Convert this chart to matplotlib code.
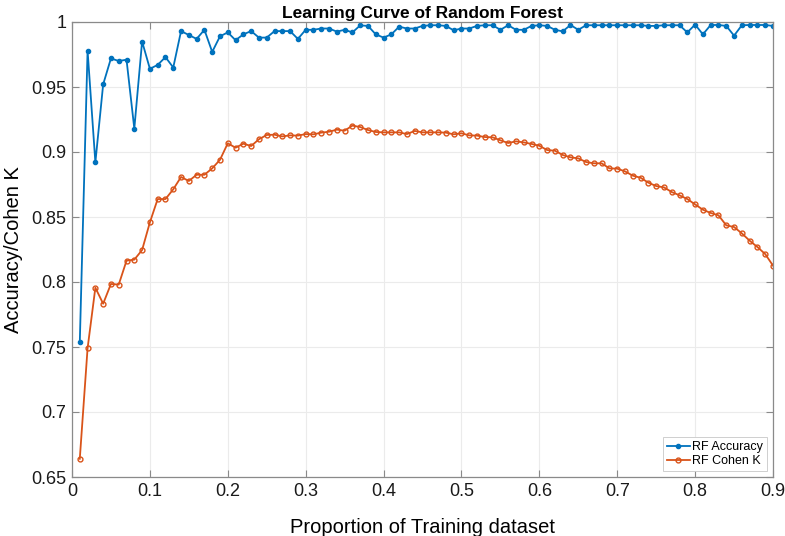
import numpy as np
import matplotlib
matplotlib.use('Agg')
import matplotlib.pyplot as plt

plt.rcParams['font.family'] = ['Liberation Sans', 'DejaVu Sans']

# proportion of training data 0.01 .. 0.90
prop = np.round(np.arange(1, 91) * 0.01, 2)

rf_acc = [0.7536, 0.978, 0.892, 0.952, 0.972, 0.970, 0.971, 0.918, 0.985, 0.964,
          0.967, 0.973, 0.965, 0.993, 0.990, 0.987, 0.994, 0.977, 0.989, 0.992,
          0.986, 0.9905, 0.993, 0.988, 0.988, 0.993, 0.993, 0.993, 0.987, 0.994,
          0.994, 0.995, 0.995, 0.9926, 0.994, 0.992, 0.9974, 0.997, 0.9905, 0.988,
          0.9905, 0.9964, 0.995, 0.995, 0.997, 0.9975, 0.9975, 0.997, 0.9936, 0.995,
          0.995, 0.997, 0.9975, 0.9975, 0.994, 0.9975, 0.994, 0.994, 0.997, 0.9975,
          0.997, 0.994, 0.9928, 0.9977, 0.994, 0.9975, 0.9975, 0.9975, 0.9975, 0.9975,
          0.9975, 0.9975, 0.9975, 0.997, 0.997, 0.9975, 0.9975, 0.9975, 0.992, 0.998,
          0.9905, 0.9977, 0.9977, 0.997, 0.9895, 0.9975, 0.9977, 0.9977, 0.9977, 0.997]

rf_kappa = [0.664, 0.749, 0.7956, 0.7833, 0.7985, 0.798, 0.8164, 0.8172, 0.8246, 0.8459,
            0.8638, 0.8638, 0.8713, 0.8808, 0.8777, 0.8825, 0.8825, 0.8874, 0.894, 0.9067,
            0.9033, 0.9064, 0.9046, 0.9098, 0.9131, 0.9133, 0.912, 0.9128, 0.9126, 0.9138,
            0.9136, 0.9149, 0.9156, 0.9172, 0.9164, 0.9203, 0.9192, 0.9169, 0.9154, 0.9151,
            0.9151, 0.9151, 0.9138, 0.9162, 0.9151, 0.9151, 0.9151, 0.9149, 0.9136, 0.9144,
            0.9128, 0.9126, 0.9115, 0.9113, 0.909, 0.9069, 0.9082, 0.9074, 0.9062, 0.9048,
            0.9015, 0.901, 0.8977, 0.8959, 0.8951, 0.8923, 0.8913, 0.8913, 0.8874, 0.8872,
            0.8851, 0.8818, 0.8802, 0.8764, 0.8738, 0.8728, 0.8692, 0.8667, 0.8638, 0.8597,
            0.8556, 0.8531, 0.8513, 0.8436, 0.8423, 0.8374, 0.8318, 0.8269, 0.8215, 0.8126]

xtick_labels = ['0', '0.1', '0.2', '0.3', '0.4', '0.5', '0.6', '0.7', '0.8', '0.9']
ytick_labels = ['0.65', '0.7', '0.75', '0.8', '0.85', '0.9', '0.95', '1']

fig = plt.figure(figsize=(7.85, 5.36), dpi=100)
ax = fig.add_axes([72/785, 1 - 477/536, (773-72)/785, (477-22)/536])

ax.plot(prop, rf_acc, '.-', color='#0072BD', lw=1.3, ms=6, label='RF Accuracy')
ax.plot(prop, rf_kappa, 'o-', color='#D95319', lw=1.3, ms=3.5, mfc='none', mew=1.0,
        label='RF Cohen K')

ax.set_xlim(0, 0.9)
ax.set_ylim(0.65, 1)
ax.set_xticks(np.linspace(0, 0.9, 10))
ax.set_xticklabels(xtick_labels)
ax.set_yticks(np.linspace(0.65, 1, 8))
ax.set_yticklabels(ytick_labels)
ax.grid(True, color='#ebebeb', lw=0.8)
ax.set_axisbelow(True)
ax.tick_params(direction='in', top=True, right=True, length=5, labelsize=13,
               color='#8a8a8a', labelcolor='#1a1a1a', width=0.8, pad=4)
for s in ax.spines.values():
    s.set_color('#8a8a8a')
    s.set_linewidth(0.9)

ax.set_title('Learning Curve of Random Forest', fontsize=12.5, fontweight='bold', pad=3)
ax.set_xlabel('Proportion of Training dataset', fontsize=14.5, labelpad=13)
ax.set_ylabel('Accuracy/Cohen K', fontsize=14.5, labelpad=6)

leg = ax.legend(loc='lower right', fontsize=9, fancybox=False, framealpha=1,
                edgecolor='#c8c8c8', borderaxespad=0.5, handlelength=1.8,
                handletextpad=0.2, borderpad=0.3, labelspacing=0.15)
leg.get_frame().set_linewidth(0.6)

fig.savefig('out.png', dpi=100)
